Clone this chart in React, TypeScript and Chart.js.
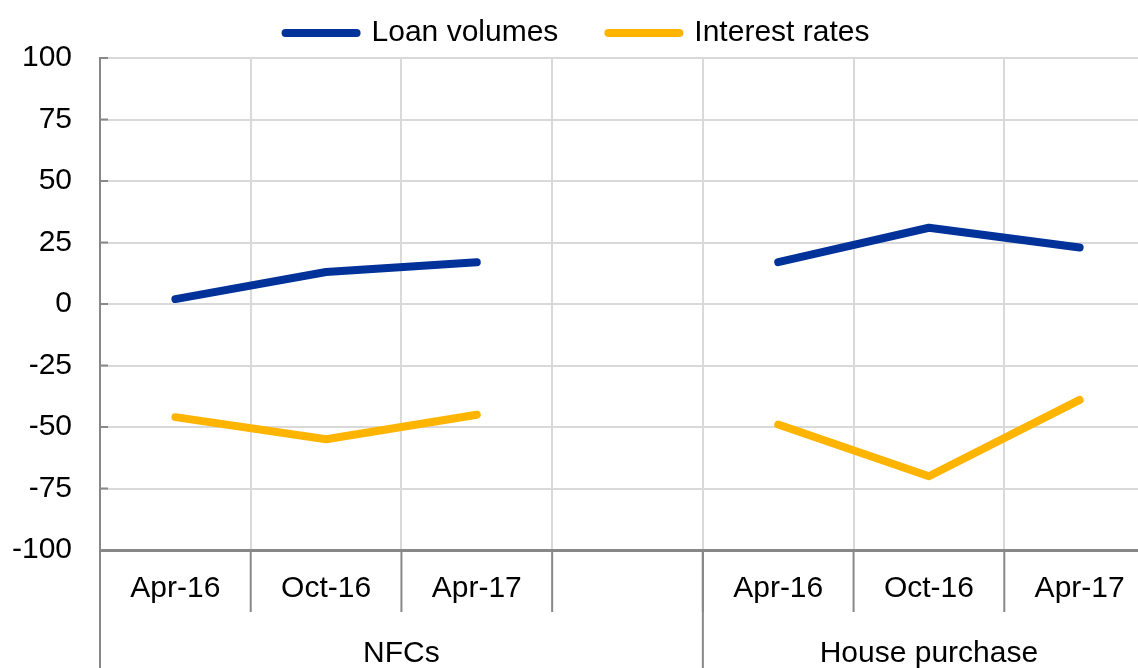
import { useEffect, useRef } from 'react';
import { Chart, registerables } from 'chart.js';

Chart.register(...registerables);

const categories = ['Apr-16', 'Oct-16', 'Apr-17', '', 'Apr-16', 'Oct-16', 'Apr-17'];
const loanVolumes = [2, 13, 17, null, 17, 31, 23];
const interestRates = [-46, -55, -45, null, -49, -70, -39];
const groupLabels = ['NFCs', 'House purchase'];
const groupSizes = [4, 3];
const yTicks = [-100, -75, -50, -25, 0, 25, 50, 75, 100];

const BLUE = '#003299';
const YELLOW = '#ffb400';
const AXIS = '#888888';
const GRID = '#d9d9d9';
const FONT = "'Liberation Sans', Arial, sans-serif";
const FONT_SIZE = 30;
const LINE_W = 8;

export default function App() {
  const ref = useRef<HTMLCanvasElement>(null);

  useEffect(() => {
    const canvas = ref.current;
    if (!canvas) return;

    const groupPlugin = {
      id: 'groupAxis',
      afterDraw(chart: any) {
        const { ctx, chartArea, scales } = chart;
        const x = scales.x;
        const y = scales.y;
        const step = x.getPixelForValue(1) - x.getPixelForValue(0);
        const boundary = (i: number) => x.getPixelForValue(0) - step / 2 + i * step;
        const bottom = chartArea.bottom;
        ctx.save();
        ctx.strokeStyle = AXIS;
        ctx.lineWidth = 2;
        // inner tick marks on the value axis
        y.ticks.forEach((t: any) => {
          const py = y.getPixelForValue(t.value);
          ctx.beginPath();
          ctx.moveTo(chartArea.left, py);
          ctx.lineTo(chartArea.left + 8, py);
          ctx.stroke();
        });
        // tick marks below the category axis
        for (let i = 0; i <= categories.length; i++) {
          const px = boundary(i);
          ctx.beginPath();
          ctx.moveTo(px, bottom);
          ctx.lineTo(px, bottom + 62);
          ctx.stroke();
        }
        // group separators and labels
        let start = 0;
        const edges = [0];
        groupSizes.forEach((s) => {
          start += s;
          edges.push(start);
        });
        edges.forEach((e) => {
          const px = boundary(e);
          ctx.beginPath();
          ctx.moveTo(px, bottom);
          ctx.lineTo(px, chart.height);
          ctx.stroke();
        });
        ctx.fillStyle = '#000';
        ctx.font = `${FONT_SIZE}px ${FONT}`;
        ctx.textAlign = 'center';
        ctx.textBaseline = 'middle';
        groupLabels.forEach((g, gi) => {
          const cx = (boundary(edges[gi]) + boundary(edges[gi + 1])) / 2;
          ctx.fillText(g, cx, bottom + 104);
        });
        ctx.restore();
      },
    };

    const chart = new Chart(canvas, {
      type: 'line',
      data: {
        labels: categories,
        datasets: [
          {
            label: 'Loan volumes',
            data: loanVolumes,
            borderColor: BLUE,
            backgroundColor: BLUE,
            borderWidth: LINE_W,
            borderCapStyle: 'round',
            borderJoinStyle: 'round',
            pointRadius: 0,
            pointHoverRadius: 0,
            tension: 0,
            spanGaps: false,
          },
          {
            label: 'Interest rates',
            data: interestRates,
            borderColor: YELLOW,
            backgroundColor: YELLOW,
            borderWidth: LINE_W,
            borderCapStyle: 'round',
            borderJoinStyle: 'round',
            pointRadius: 0,
            pointHoverRadius: 0,
            tension: 0,
            spanGaps: false,
          },
        ],
      },
      options: {
        responsive: false,
        animation: false,
        devicePixelRatio: 1,
        color: '#000',
        font: { family: FONT, size: FONT_SIZE },
        layout: { padding: { top: -32, right: 5, left: 0, bottom: 0 } },
        plugins: {
          tooltip: { enabled: false },
          legend: {
            position: 'top',
            align: 'center',
            labels: {
              usePointStyle: true,
              pointStyle: 'line',
              pointStyleWidth: 71,
              padding: 50,
              color: '#000',
              font: { family: FONT, size: FONT_SIZE },
              generateLabels: (c: any) =>
                (Chart as any).defaults.plugins.legend.labels
                  .generateLabels(c)
                  .map((l: any) => ({ ...l, lineCap: 'round', lineWidth: LINE_W, pointStyle: 'line' })),
            },
          },
        },
        scales: {
          x: {
            type: 'category',
            offset: true,
            grid: { offset: true, color: GRID, lineWidth: 2, drawTicks: false },
            border: { color: AXIS, width: 3 },
            ticks: {
              autoSkip: false,
              maxRotation: 0,
              minRotation: 0,
              padding: 21,
              color: '#000',
              font: { family: FONT, size: FONT_SIZE },
            },
            afterFit: (s: any) => {
              s.height = 118;
            },
          },
          y: {
            min: -100,
            max: 100,
            grid: { color: GRID, lineWidth: 2, drawTicks: false },
            border: { color: AXIS, width: 2 },
            afterBuildTicks: (s: any) => {
              s.ticks = yTicks.map((v) => ({ value: v }));
            },
            ticks: {
              padding: 28,
              color: '#000',
              font: { family: FONT, size: FONT_SIZE },
            },
            afterFit: (s: any) => {
              s.width = 100;
            },
          },
        },
      },
      plugins: [groupPlugin],
    } as any);

    return () => chart.destroy();
  }, []);

  return (
    <div
      style={{
        position: 'fixed',
        left: 0,
        top: 0,
        width: 1138,
        height: 668,
        overflow: 'hidden',
        background: '#fff',
      }}
    >
      <canvas ref={ref} width={1160} height={668} style={{ display: 'block' }} />
    </div>
  );
}
